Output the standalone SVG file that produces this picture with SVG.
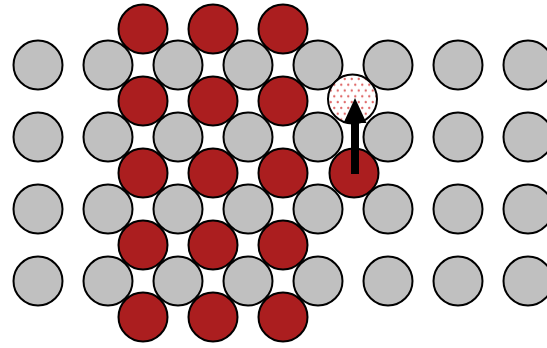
<svg xmlns="http://www.w3.org/2000/svg" width="547" height="348" viewBox="0 0 547 348">
<style>
.g{fill:#c0c0c0;stroke:#000;stroke-width:2}
.r{fill:#ab1e1f;stroke:#000;stroke-width:2}
.v{fill:url(#dots);stroke:#000;stroke-width:2}
</style>
<defs>
<pattern id="dots" patternUnits="userSpaceOnUse" width="7" height="11.6" x="329" y="76">
<rect width="7" height="11.6" fill="#fff"/>
<circle cx="1.75" cy="2.9" r="1.2" fill="#e06a6a"/>
<circle cx="5.25" cy="8.7" r="1.2" fill="#e06a6a"/>
</pattern>
</defs>
<rect width="547" height="348" fill="#fff"/>
<g id="grey">
<circle class="g" cx="38" cy="65" r="24.5"/><circle class="g" cx="108" cy="65" r="24.5"/><circle class="g" cx="178" cy="65" r="24.5"/><circle class="g" cx="248" cy="65" r="24.5"/><circle class="g" cx="318" cy="65" r="24.5"/><circle class="g" cx="388" cy="65" r="24.5"/><circle class="g" cx="458" cy="65" r="24.5"/><circle class="g" cx="528" cy="65" r="24.5"/>
<circle class="g" cx="38" cy="137" r="24.5"/><circle class="g" cx="108" cy="137" r="24.5"/><circle class="g" cx="178" cy="137" r="24.5"/><circle class="g" cx="248" cy="137" r="24.5"/><circle class="g" cx="318" cy="137" r="24.5"/><circle class="g" cx="388" cy="137" r="24.5"/><circle class="g" cx="458" cy="137" r="24.5"/><circle class="g" cx="528" cy="137" r="24.5"/>
<circle class="g" cx="38" cy="209" r="24.5"/><circle class="g" cx="108" cy="209" r="24.5"/><circle class="g" cx="178" cy="209" r="24.5"/><circle class="g" cx="248" cy="209" r="24.5"/><circle class="g" cx="318" cy="209" r="24.5"/><circle class="g" cx="388" cy="209" r="24.5"/><circle class="g" cx="458" cy="209" r="24.5"/><circle class="g" cx="528" cy="209" r="24.5"/>
<circle class="g" cx="38" cy="281" r="24.5"/><circle class="g" cx="108" cy="281" r="24.5"/><circle class="g" cx="178" cy="281" r="24.5"/><circle class="g" cx="248" cy="281" r="24.5"/><circle class="g" cx="318" cy="281" r="24.5"/><circle class="g" cx="388" cy="281" r="24.5"/><circle class="g" cx="458" cy="281" r="24.5"/><circle class="g" cx="528" cy="281" r="24.5"/>
</g>
<g id="red">
<circle class="r" cx="143" cy="29" r="24.5"/><circle class="r" cx="213" cy="29" r="24.5"/><circle class="r" cx="283" cy="29" r="24.5"/>
<circle class="r" cx="143" cy="101" r="24.5"/><circle class="r" cx="213" cy="101" r="24.5"/><circle class="r" cx="283" cy="101" r="24.5"/>
<circle class="r" cx="143" cy="173" r="24.5"/><circle class="r" cx="213" cy="173" r="24.5"/><circle class="r" cx="283" cy="173" r="24.5"/>
<circle class="r" cx="143" cy="245" r="24.5"/><circle class="r" cx="213" cy="245" r="24.5"/><circle class="r" cx="283" cy="245" r="24.5"/>
<circle class="r" cx="143" cy="317" r="24.5"/><circle class="r" cx="213" cy="317" r="24.5"/><circle class="r" cx="283" cy="317" r="24.5"/>
<circle class="r" cx="354" cy="173" r="24.5"/>
</g>
<g id="vacancy">
<circle class="v" cx="352.5" cy="99" r="24.5"/>
</g>
<g id="connectors">
<rect x="351" y="120" width="8" height="54" fill="#000"/>
<polygon points="355,98 343.5,123 366.5,123" fill="#000"/>
</g>
</svg>
